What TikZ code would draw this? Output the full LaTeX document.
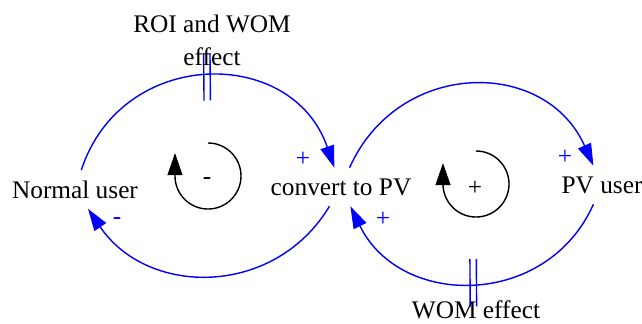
\documentclass[tikz,border=0pt]{standalone}
\usepackage{fontspec}
\setmainfont{Liberation Serif}
\usepackage{xcolor}
\usepackage{tikz}
\usetikzlibrary{arrows.meta}
\definecolor{linkblue}{RGB}{0, 0, 255}

\begin{document}
\begin{tikzpicture}[
    x=0.025cm, y=0.025cm,
    every node/.style={font=\fontsize{18}{23.5}\selectfont},
    var/.style={minimum height=0.95cm, inner sep=2pt, align=center},
    link/.style={draw=linkblue, line width=1pt,
                 -{Triangle[length=0.55cm, width=0.35cm]}},
    delay/.style={sloped, minimum width=0.125cm, minimum height=1.15cm,
                  inner sep=0pt},
    delaymark/.style={draw=linkblue, line width=1pt},
    pol/.style={text=linkblue, inner sep=0pt},
    loopsym/.style={draw=black, line width=1pt,
                    -{Triangle[length=0.55cm, width=0.37cm]}}
]
    \useasboundingbox (0,0) rectangle (642,-323);

    % variables
    \node[var] (normal) at (75,-189.5) {Normal user};
    \node[var] (convert) at (341,-187) {convert to PV};
    \node[var] (pvuser) at (602,-185) {PV user};
    \node[align=center] (roi) at (212,-40) {ROI and WOM\\effect};
    \node (wom) at (476,-310) {WOM effect};

    % links
    \draw[link] (normal) to[out=72, in=109, distance=3.24cm]
        node[delay, midway] (d1) {} (convert);
    \draw[link] (convert) to[out=-121, in=-56, distance=2.66cm] (normal);
    \draw[link] (convert) to[out=66, in=114, distance=2.97cm] (pvuser);
    \draw[link] (pvuser) to[out=-114, in=-64, distance=2.85cm]
        node[delay, midway] (d2) {} (convert);

    % delays
    \draw[delaymark] (d1.north west) -- (d1.south west)
                     (d1.north east) -- (d1.south east);
    \draw[delaymark] (d2.north west) -- (d2.south west)
                     (d2.north east) -- (d2.south east);

    % polarities
    \node[pol] (p1) at (303,-159) {+};
    \node[pol] (p2) at (117,-221.5) {-};
    \node[pol] (p3) at (565,-157) {+};
    \node[pol] (p4) at (383,-219) {+};

    % loops
    \draw[loopsym] (208,-143) arc[start angle=90, end angle=-180, radius=0.825cm]
        -- ++(0,23);
    \node[inner sep=0pt] (loopa) at (207,-181.5) {-};
    \draw[loopsym] (476,-151) arc[start angle=90, end angle=-180, radius=0.825cm]
        -- ++(0,21);
    \node[inner sep=0pt] (loopb) at (475,-188) {+};
\end{tikzpicture}
\end{document}
